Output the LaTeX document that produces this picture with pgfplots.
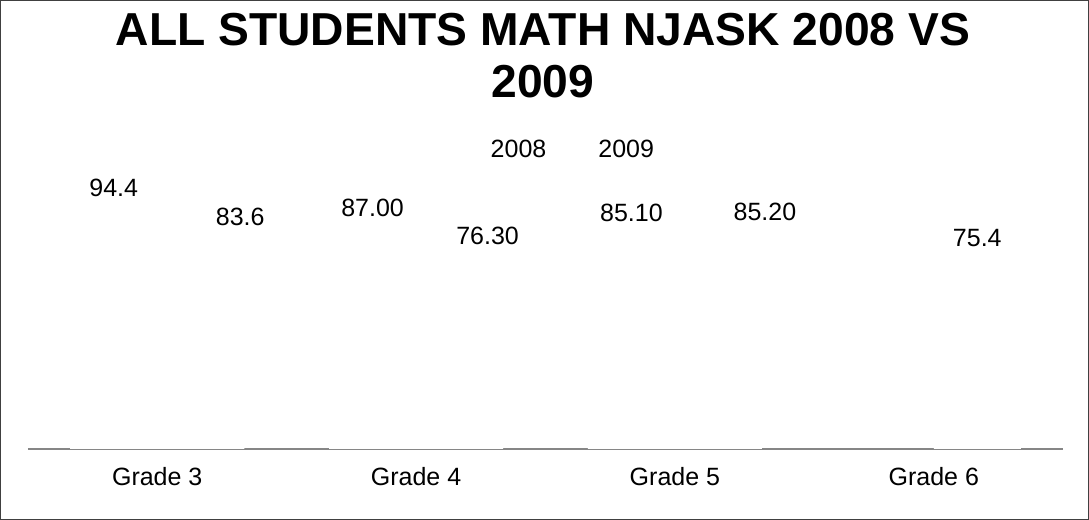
\documentclass[border=0pt]{standalone}
\usepackage{fontspec}
\setmainfont{Liberation Sans}
\usepackage{pgfplots}
\usepackage{pgfplotstable}
\pgfplotsset{compat=1.18}
\definecolor{axgray}{HTML}{868686}
\pgfplotstableread{
x y label dx
0 94.4 94.4 0
1 87.00 87.00 0
2 85.10 85.10 0
}\dataA
\pgfplotstableread{
x y label dx
0 83.6 83.6 19.75
1 76.30 76.30 14
2 85.20 85.20 23.25
3 75.4 75.4 0
}\dataB
\begin{document}
\begin{tikzpicture}
\begin{axis}[
  set layers,
  at={(14pt,35.5pt)}, anchor=south west,
  scale only axis, width=517.5pt, height=133pt,
  ybar=0pt, bar width=43.5pt,
  xmin=-0.5, xmax=3.5, ymin=0, ymax=100,
  axis x line*=bottom, axis y line=none,
  x axis line style={draw=axgray, line width=1pt},
  xtick={0,1,2,3}, xticklabels={Grade 3,Grade 4,Grade 5,Grade 6},
  xtick style={draw=none},
  xticklabel style={font=\fontsize{12.5}{15}\selectfont, yshift=-1.4pt},
  point meta=explicit symbolic,
  nodes near coords,
  visualization depends on={\thisrow{dx}\as\dx},
  every node near coord/.append style={font=\fontsize{12.5}{15}\selectfont, anchor=center, yshift=5pt, xshift=\dx pt},
  legend columns=2,
  legend image code/.code={\path (0pt,-2pt) rectangle (2pt,2pt);},
  legend style={draw=none, fill=none, at={(0.524,1.124)}, anchor=center,
    font=\fontsize{12.5}{15}\selectfont,
    /tikz/every even column/.append style={column sep=20pt}},
  clip=false,
]
\addplot[fill=white, draw=none] table[x=x, y=y, meta=label] {\dataA};
\addlegendentry{2008}
\addplot[fill=white, draw=none] table[x=x, y=y, meta=label] {\dataB};
\addlegendentry{2009}
\end{axis}
\node[anchor=base, font=\fontsize{23.1}{26}\selectfont\bfseries] at (271.5pt,237pt) {ALL STUDENTS MATH NJASK 2008 VS};
\node[anchor=base, font=\fontsize{23.1}{26}\selectfont\bfseries] at (271.5pt,211pt) {2009};
\draw[draw=black!75, line width=0.6pt] (0.4pt,0.4pt) rectangle (544.1pt,259.6pt);
\end{tikzpicture}
\end{document}
